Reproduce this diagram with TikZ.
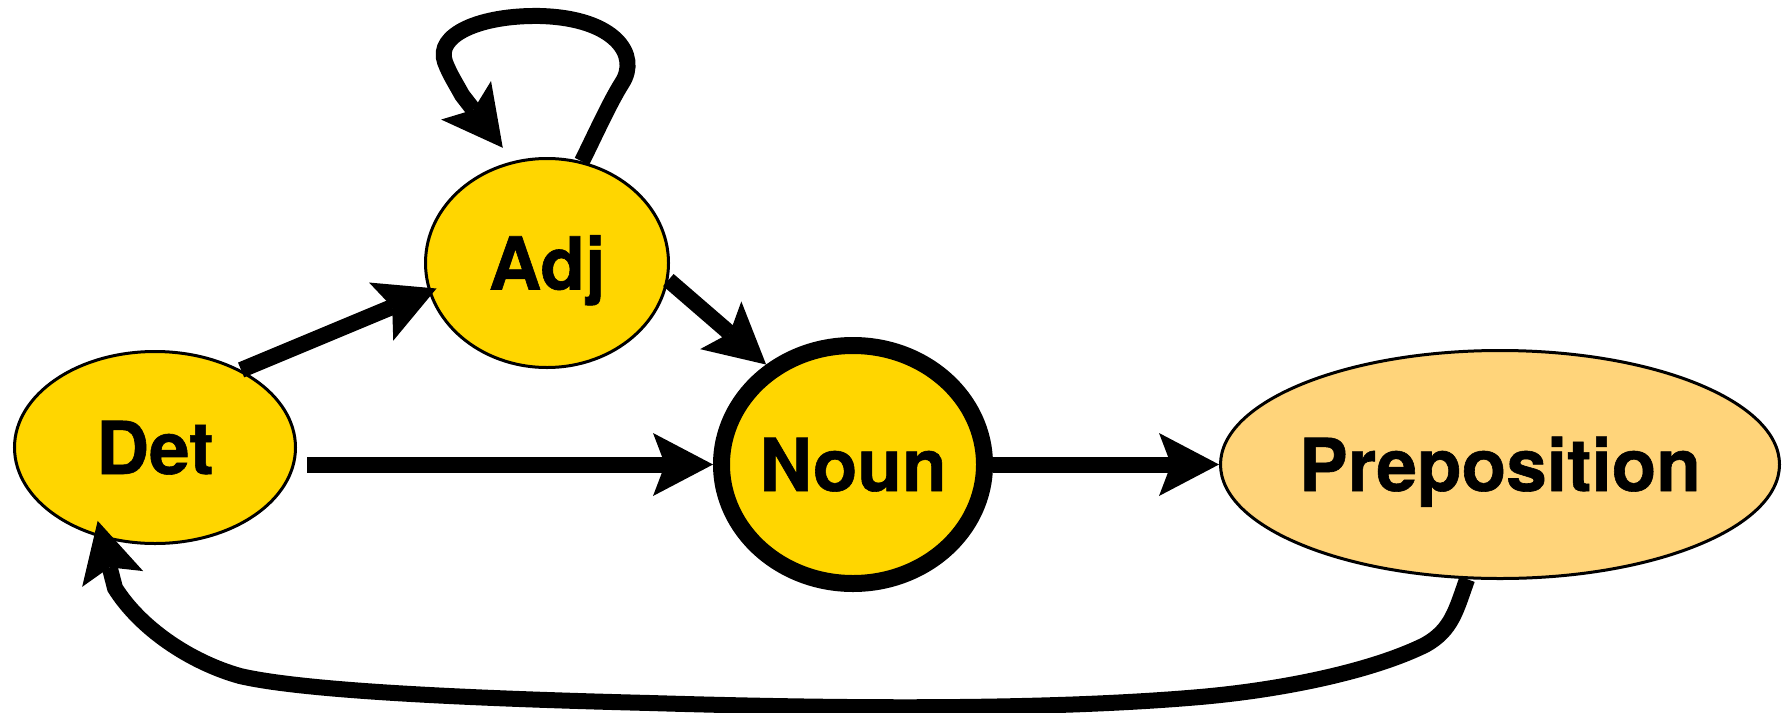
\documentclass[tikz,border=0pt]{standalone}
\usepackage{fontspec}
\setmainfont{TeX Gyre Heros}[BoldFeatures={FakeBold=0.8}]
\usetikzlibrary{shapes.geometric,arrows.meta,calc}
\definecolor{gold}{RGB}{255,214,0}
\definecolor{prepfill}{RGB}{255,212,122}
\begin{document}
\begin{tikzpicture}[x=1pt,y=-1pt,
  st/.style={ellipse, draw=black, line width=3pt, inner sep=0pt, text height=53pt, text depth=0pt,
    font=\fontsize{73}{80}\selectfont\bfseries},
  conn/.style={line width=16pt, -{Stealth[length=60pt,width=63pt,inset=12pt,line width=0pt]}},
]
\useasboundingbox (0,0) rectangle (1787,712);
\node[st, fill=gold, minimum width=281pt, minimum height=192pt] (det) at (155,447.5) {\makebox[0pt]{Det}};
\node[st, fill=gold, minimum width=243pt, minimum height=209pt] (adj) at (547,263) {\makebox[0pt]{Adj}};
\node[st, fill=gold, line width=17pt, minimum width=263pt, minimum height=238pt] (noun) at (853,464.5) {\makebox[0pt]{Noun}};
\node[st, fill=prepfill, minimum width=559pt, minimum height=228pt] (prep) at (1500,464.5) {\makebox[0pt]{Preposition}};

\draw[conn] (det.42) -- ($(adj.center)!0.93!(adj.193)$);
\draw[conn, shorten <=10pt] (det.east |- noun.west) -- (noun.west);
\draw[conn] (adj.352) -- (noun.131);
\draw[conn] (noun.east) -- (prep.west);
\draw[conn] (adj.71) .. controls (596,133) and (610,102) .. (622,83)
  .. controls (640,55) and (615,18) .. (540,16)
  .. controls (480,15) and (435,35) .. (445,62)
  .. controls (450,75) and (455,82) .. (462,95)
  -- ($(adj.center)!1.145!(adj.111)$);
\draw[conn] (prep.254) .. controls (1456,610) and (1452,630) .. (1425,645)
  .. controls (1370,672) and (1280,690) .. (1200,697)
  .. controls (1050,710) and (850,709) .. (650,703)
  .. controls (450,698) and (300,690) .. (240,676)
  .. controls (190,662) and (140,628) .. (115,588)
  -- ($(det.center)!0.854!(det.232)$);
\end{tikzpicture}
\end{document}
